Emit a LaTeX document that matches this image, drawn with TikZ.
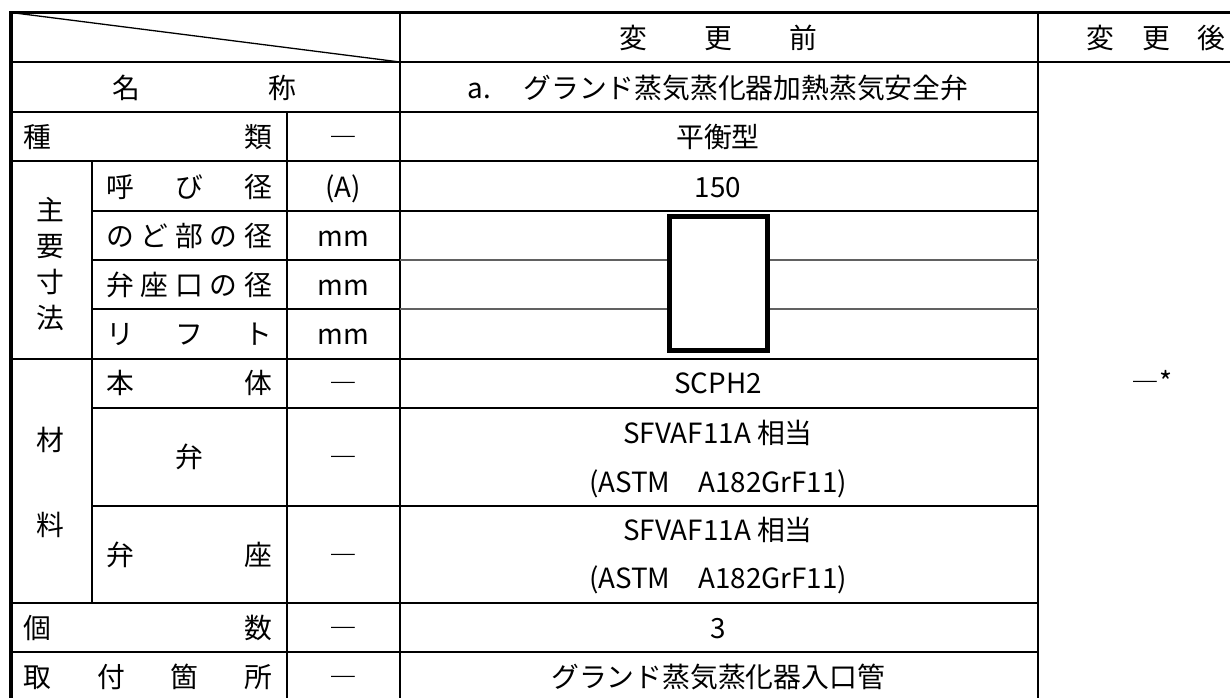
\documentclass[tikz,border=0pt]{standalone}
\usepackage{fontspec}
\setmainfont{Noto Sans CJK JP}
\usepackage{tikz}

\definecolor{rulegray}{gray}{0.38}
\newcommand{\spread}[2]{\makebox[#1][s]{#2}}

\begin{document}
\begin{tikzpicture}[x=0.5pt,y=-0.5pt,font=\fontsize{13.9pt}{16pt}\selectfont,
   cell/.style={anchor=base,inner sep=0pt,yshift=-5.3pt},
   rule/.style={line width=0.65pt},
   frame/.style={line width=1.75pt}]
   \useasboundingbox (0,0) rectangle (1230,697);
   \clip (0,0) rectangle (1230,697);

   \draw[rule] (11,12.5) -- (400,62);
   \draw[rule] (11,62)  -- (1274,62);
   \draw[rule] (11,112) -- (1038,112);
   \draw[rule] (11,161) -- (1038,161);
   \draw[rule] (92,211) -- (1038,211);
   \draw[rule] (92,260) -- (400,260);
   \draw[rule] (92,309) -- (400,309);
   \draw[rule] (11,359) -- (1038,359);
   \draw[rule] (92,408) -- (1038,408);
   \draw[rule] (92,506) -- (1038,506);
   \draw[rule] (11,603) -- (1038,603);
   \draw[rule] (11,652) -- (1038,652);

   \draw[rule] (92,161)    -- (92,603);
   \draw[rule] (287,112)   -- (287,701);
   \draw[rule] (400,12.5)  -- (400,701);
   \draw[rule] (1038,12.5) -- (1038,701);

   \draw[line width=0.6pt, rulegray] (400,260) -- (1038,260);
   \draw[line width=0.6pt, rulegray] (400,309) -- (1038,309);

   \draw[frame] (11,12.5) rectangle (1274,701);
   \draw[line width=2.5pt, fill=white] (669.5,216.5) rectangle (767.5,350.5);

   \node[cell] (hdr_0) at (718,38)  {\spread{99pt}{変\hfill 更\hfill 前}};
   \node[cell] (hdr_1) at (1156,38) {\spread{69.5pt}{変\hfill 更\hfill 後}};

   \node[cell] (name_0) at (204,88) {\spread{92pt}{名\hfill 称}};
   \node[cell] (name_1) at (718,88) {\makebox[2em][l]{a.}グランド蒸気蒸化器加熱蒸気安全弁};

   \node[cell] (kind_0) at (148,137) {\spread{124pt}{種\hfill 類}};
   \node[cell] (kind_1) at (343,137) {―};
   \node[cell] (kind_2) at (718,137) {平衡型};

   \node[cell] (dim_1) at (50,210) {主};
   \node[cell] (dim_2) at (50,246) {要};
   \node[cell] (dim_3) at (50,282) {寸};
   \node[cell] (dim_4) at (50,318) {法};

   \node[cell] (bore_0) at (189,187) {\spread{83pt}{呼\hfill び\hfill 径}};
   \node[cell] (bore_1) at (343,187) {(A)};
   \node[cell] (bore_2) at (718,187) {150};

   \node[cell] (throat_0) at (189,236) {\spread{83pt}{の\hfill ど\hfill 部\hfill の\hfill 径}};
   \node[cell] (throat_1) at (343,236) {mm};

   \node[cell] (port_0) at (189,285) {\spread{83pt}{弁\hfill 座\hfill 口\hfill の\hfill 径}};
   \node[cell] (port_1) at (343,285) {mm};

   \node[cell] (lift_0) at (189,334) {\spread{83pt}{リ\hfill フ\hfill ト}};
   \node[cell] (lift_1) at (343,334) {mm};

   \node[cell] (mat_1) at (50,440) {材};
   \node[cell] (mat_2) at (50,525) {料};

   \node[cell] (body_0) at (189,383) {\spread{83pt}{本\hfill 体}};
   \node[cell] (body_1) at (343,383) {―};
   \node[cell] (body_2) at (718,383) {SCPH2};

   \node[cell] (disc_0) at (189,457) {弁};
   \node[cell] (disc_1) at (343,457) {―};
   \node[cell] (disc_2) at (718,433) {SFVAF11A 相当};
   \node[cell] (disc_3) at (718,482) {(ASTM\hspace{1em}A182GrF11)};

   \node[cell] (seat_0) at (189,555) {\spread{83pt}{弁\hfill 座}};
   \node[cell] (seat_1) at (343,555) {―};
   \node[cell] (seat_2) at (718,530) {SFVAF11A 相当};
   \node[cell] (seat_3) at (718,578) {(ASTM\hspace{1em}A182GrF11)};

   \node[cell] (count_0) at (148,628) {\spread{124pt}{個\hfill 数}};
   \node[cell] (count_1) at (343,628) {―};
   \node[cell] (count_2) at (718,628) {3};

   \node[cell] (place_0) at (148,677) {\spread{124pt}{取\hfill 付\hfill 箇\hfill 所}};
   \node[cell] (place_1) at (343,677) {―};
   \node[cell] (place_2) at (718,677) {グランド蒸気蒸化器入口管};

   \node[cell] (after_0) at (1152,382) {―*};
\end{tikzpicture}
\end{document}
